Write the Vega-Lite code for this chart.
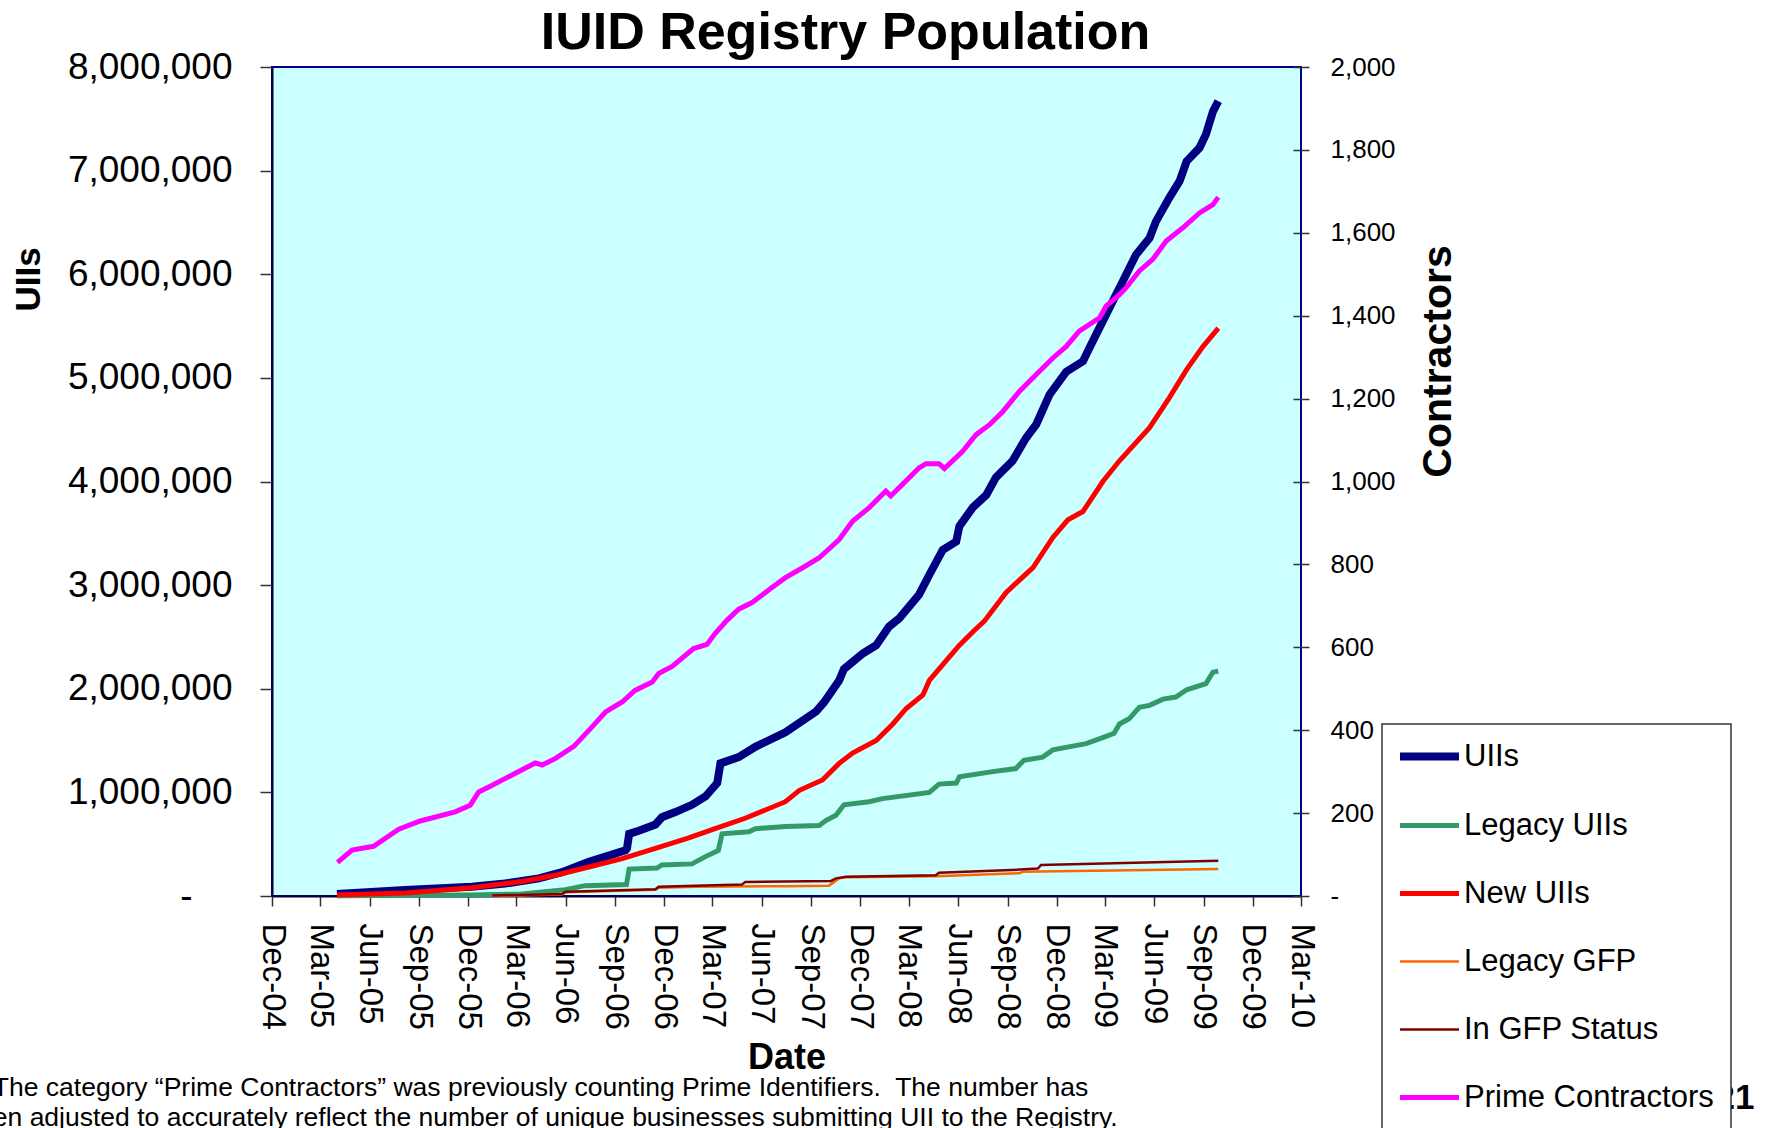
{
  "$schema": "https://vega.github.io/schema/vega-lite/v6.json",
  "width": 1029,
  "height": 829,
  "autosize": {"type": "none"},
  "padding": {"left": 272, "top": 67, "right": 471, "bottom": 232},
  "background": "white",
  "config": {
    "font": "Liberation Sans",
    "view": {"fill": "#CCFFFF", "stroke": "#000080", "strokeWidth": 2},
    "axis": {"grid": false, "labelColor": "black", "titleColor": "black", "labelFont": "Liberation Sans", "titleFont": "Liberation Sans", "tickColor": "#333333", "tickWidth": 1.5, "domainColor": "#000040", "domainWidth": 2, "labelFlush": false, "labelOverlap": false, "labelBound": false},
    "legend": {"title": null, "orient": "none", "legendX": 1110, "legendY": 657, "fillColor": "white", "strokeColor": "#333333", "strokeWidth": 1.5, "padding": 17, "rowPadding": 36, "labelFontSize": 31, "labelFont": "Liberation Sans", "labelColor": "black", "symbolType": "stroke", "symbolSize": 3481, "labelOffset": 5, "labelLimit": 500, "symbolStrokeWidth": 5}
  },
  "title": {"text": "IUID Registry Population", "fontSize": 52, "fontWeight": "bold", "font": "Liberation Sans", "color": "black", "anchor": "middle", "frame": "group", "dx": 59, "dy": 16},
  "data": {"values": [
    {"d":"2005-04-01","s":"UIIs","v":20000},{"d":"2005-08-06","s":"UIIs","v":58000},{"d":"2005-12-08","s":"UIIs","v":90000},{"d":"2006-02-08","s":"UIIs","v":120000},{"d":"2006-04-12","s":"UIIs","v":170000},{"d":"2006-05-25","s":"UIIs","v":230000},{"d":"2006-07-14","s":"UIIs","v":330000},{"d":"2006-08-14","s":"UIIs","v":380000},{"d":"2006-09-20","s":"UIIs","v":440000},{"d":"2006-09-23","s":"UIIs","v":460000},{"d":"2006-09-27","s":"UIIs","v":600000},{"d":"2006-10-15","s":"UIIs","v":630000},{"d":"2006-11-15","s":"UIIs","v":690000},{"d":"2006-11-27","s":"UIIs","v":760000},{"d":"2006-12-22","s":"UIIs","v":810000},{"d":"2007-01-22","s":"UIIs","v":880000},{"d":"2007-02-16","s":"UIIs","v":960000},{"d":"2007-03-10","s":"UIIs","v":1090000},{"d":"2007-03-16","s":"UIIs","v":1280000},{"d":"2007-04-19","s":"UIIs","v":1340000},{"d":"2007-05-20","s":"UIIs","v":1440000},{"d":"2007-07-15","s":"UIIs","v":1580000},{"d":"2007-09-10","s":"UIIs","v":1780000},{"d":"2007-09-25","s":"UIIs","v":1870000},{"d":"2007-10-23","s":"UIIs","v":2080000},{"d":"2007-11-01","s":"UIIs","v":2190000},{"d":"2007-12-06","s":"UIIs","v":2340000},{"d":"2007-12-31","s":"UIIs","v":2420000},{"d":"2008-01-24","s":"UIIs","v":2600000},{"d":"2008-02-12","s":"UIIs","v":2680000},{"d":"2008-03-20","s":"UIIs","v":2910000},{"d":"2008-04-08","s":"UIIs","v":3100000},{"d":"2008-05-03","s":"UIIs","v":3340000},{"d":"2008-05-28","s":"UIIs","v":3420000},{"d":"2008-06-03","s":"UIIs","v":3570000},{"d":"2008-06-28","s":"UIIs","v":3750000},{"d":"2008-07-23","s":"UIIs","v":3870000},{"d":"2008-08-10","s":"UIIs","v":4040000},{"d":"2008-09-10","s":"UIIs","v":4200000},{"d":"2008-10-05","s":"UIIs","v":4420000},{"d":"2008-10-24","s":"UIIs","v":4550000},{"d":"2008-11-18","s":"UIIs","v":4840000},{"d":"2008-12-19","s":"UIIs","v":5060000},{"d":"2009-01-19","s":"UIIs","v":5160000},{"d":"2009-02-03","s":"UIIs","v":5320000},{"d":"2009-03-03","s":"UIIs","v":5610000},{"d":"2009-04-03","s":"UIIs","v":5930000},{"d":"2009-04-28","s":"UIIs","v":6190000},{"d":"2009-05-23","s":"UIIs","v":6350000},{"d":"2009-06-04","s":"UIIs","v":6510000},{"d":"2009-06-29","s":"UIIs","v":6740000},{"d":"2009-07-18","s":"UIIs","v":6900000},{"d":"2009-07-31","s":"UIIs","v":7090000},{"d":"2009-08-24","s":"UIIs","v":7220000},{"d":"2009-09-05","s":"UIIs","v":7350000},{"d":"2009-09-18","s":"UIIs","v":7570000},{"d":"2009-09-28","s":"UIIs","v":7670000},
    {"d":"2005-04-01","s":"Legacy UIIs","v":3000},{"d":"2005-12-08","s":"Legacy UIIs","v":10000},{"d":"2006-03-11","s":"Legacy UIIs","v":20000},{"d":"2006-05-31","s":"Legacy UIIs","v":60000},{"d":"2006-07-07","s":"Legacy UIIs","v":100000},{"d":"2006-09-22","s":"Legacy UIIs","v":110000},{"d":"2006-09-27","s":"Legacy UIIs","v":260000},{"d":"2006-11-18","s":"Legacy UIIs","v":270000},{"d":"2006-11-27","s":"Legacy UIIs","v":300000},{"d":"2007-01-22","s":"Legacy UIIs","v":310000},{"d":"2007-02-16","s":"Legacy UIIs","v":380000},{"d":"2007-03-12","s":"Legacy UIIs","v":440000},{"d":"2007-03-19","s":"Legacy UIIs","v":600000},{"d":"2007-05-08","s":"Legacy UIIs","v":620000},{"d":"2007-05-20","s":"Legacy UIIs","v":650000},{"d":"2007-07-15","s":"Legacy UIIs","v":670000},{"d":"2007-09-16","s":"Legacy UIIs","v":680000},{"d":"2007-09-29","s":"Legacy UIIs","v":730000},{"d":"2007-10-17","s":"Legacy UIIs","v":780000},{"d":"2007-11-01","s":"Legacy UIIs","v":880000},{"d":"2007-12-18","s":"Legacy UIIs","v":910000},{"d":"2008-01-12","s":"Legacy UIIs","v":940000},{"d":"2008-04-08","s":"Legacy UIIs","v":1000000},{"d":"2008-04-26","s":"Legacy UIIs","v":1080000},{"d":"2008-05-28","s":"Legacy UIIs","v":1090000},{"d":"2008-06-03","s":"Legacy UIIs","v":1150000},{"d":"2008-08-04","s":"Legacy UIIs","v":1200000},{"d":"2008-09-16","s":"Legacy UIIs","v":1230000},{"d":"2008-10-01","s":"Legacy UIIs","v":1310000},{"d":"2008-11-05","s":"Legacy UIIs","v":1340000},{"d":"2008-11-24","s":"Legacy UIIs","v":1410000},{"d":"2009-01-25","s":"Legacy UIIs","v":1470000},{"d":"2009-03-03","s":"Legacy UIIs","v":1540000},{"d":"2009-03-18","s":"Legacy UIIs","v":1570000},{"d":"2009-03-28","s":"Legacy UIIs","v":1660000},{"d":"2009-04-15","s":"Legacy UIIs","v":1710000},{"d":"2009-05-04","s":"Legacy UIIs","v":1820000},{"d":"2009-05-23","s":"Legacy UIIs","v":1840000},{"d":"2009-06-17","s":"Legacy UIIs","v":1900000},{"d":"2009-07-11","s":"Legacy UIIs","v":1920000},{"d":"2009-07-31","s":"Legacy UIIs","v":1990000},{"d":"2009-09-05","s":"Legacy UIIs","v":2050000},{"d":"2009-09-18","s":"Legacy UIIs","v":2160000},{"d":"2009-09-28","s":"Legacy UIIs","v":2170000},
    {"d":"2005-04-01","s":"New UIIs","v":10000},{"d":"2005-08-06","s":"New UIIs","v":30000},{"d":"2005-12-08","s":"New UIIs","v":80000},{"d":"2006-03-11","s":"New UIIs","v":140000},{"d":"2006-05-13","s":"New UIIs","v":200000},{"d":"2006-07-14","s":"New UIIs","v":280000},{"d":"2006-09-14","s":"New UIIs","v":360000},{"d":"2006-11-15","s":"New UIIs","v":460000},{"d":"2007-01-16","s":"New UIIs","v":560000},{"d":"2007-03-06","s":"New UIIs","v":650000},{"d":"2007-05-01","s":"New UIIs","v":750000},{"d":"2007-07-15","s":"New UIIs","v":910000},{"d":"2007-08-10","s":"New UIIs","v":1020000},{"d":"2007-09-22","s":"New UIIs","v":1120000},{"d":"2007-10-23","s":"New UIIs","v":1280000},{"d":"2007-11-17","s":"New UIIs","v":1380000},{"d":"2007-12-31","s":"New UIIs","v":1500000},{"d":"2008-01-31","s":"New UIIs","v":1660000},{"d":"2008-02-25","s":"New UIIs","v":1810000},{"d":"2008-03-27","s":"New UIIs","v":1940000},{"d":"2008-04-08","s":"New UIIs","v":2080000},{"d":"2008-05-09","s":"New UIIs","v":2270000},{"d":"2008-06-03","s":"New UIIs","v":2420000},{"d":"2008-06-30","s":"New UIIs","v":2560000},{"d":"2008-07-19","s":"New UIIs","v":2650000},{"d":"2008-08-29","s":"New UIIs","v":2930000},{"d":"2008-10-18","s":"New UIIs","v":3170000},{"d":"2008-11-24","s":"New UIIs","v":3460000},{"d":"2008-12-22","s":"New UIIs","v":3630000},{"d":"2009-01-19","s":"New UIIs","v":3710000},{"d":"2009-02-25","s":"New UIIs","v":4000000},{"d":"2009-03-28","s":"New UIIs","v":4200000},{"d":"2009-05-23","s":"New UIIs","v":4520000},{"d":"2009-06-29","s":"New UIIs","v":4810000},{"d":"2009-07-31","s":"New UIIs","v":5080000},{"d":"2009-08-30","s":"New UIIs","v":5300000},{"d":"2009-09-28","s":"New UIIs","v":5480000},
    {"d":"2006-01-15","s":"Legacy GFP","v":0},{"d":"2006-05-25","s":"Legacy GFP","v":15000},{"d":"2006-05-31","s":"Legacy GFP","v":35000},{"d":"2006-11-15","s":"Legacy GFP","v":60000},{"d":"2006-11-21","s":"Legacy GFP","v":80000},{"d":"2007-01-28","s":"Legacy GFP","v":90000},{"d":"2007-07-15","s":"Legacy GFP","v":95000},{"d":"2007-10-04","s":"Legacy GFP","v":100000},{"d":"2007-10-23","s":"Legacy GFP","v":170000},{"d":"2007-11-05","s":"Legacy GFP","v":180000},{"d":"2008-04-20","s":"Legacy GFP","v":190000},{"d":"2008-09-23","s":"Legacy GFP","v":220000},{"d":"2008-09-29","s":"Legacy GFP","v":235000},{"d":"2009-09-28","s":"Legacy GFP","v":260000},
    {"d":"2006-01-15","s":"In GFP Status","v":5000},{"d":"2006-05-25","s":"In GFP Status","v":20000},{"d":"2006-05-31","s":"In GFP Status","v":40000},{"d":"2006-11-15","s":"In GFP Status","v":65000},{"d":"2006-11-21","s":"In GFP Status","v":90000},{"d":"2007-01-28","s":"In GFP Status","v":100000},{"d":"2007-04-25","s":"In GFP Status","v":110000},{"d":"2007-05-01","s":"In GFP Status","v":135000},{"d":"2007-07-15","s":"In GFP Status","v":140000},{"d":"2007-10-08","s":"In GFP Status","v":145000},{"d":"2007-10-17","s":"In GFP Status","v":170000},{"d":"2007-11-05","s":"In GFP Status","v":185000},{"d":"2008-04-20","s":"In GFP Status","v":200000},{"d":"2008-04-26","s":"In GFP Status","v":225000},{"d":"2008-09-23","s":"In GFP Status","v":255000},{"d":"2008-10-27","s":"In GFP Status","v":265000},{"d":"2008-11-02","s":"In GFP Status","v":300000},{"d":"2009-09-28","s":"In GFP Status","v":340000},
    {"d":"2005-04-02","s":"Prime Contractors","v":81},{"d":"2005-04-29","s":"Prime Contractors","v":111},{"d":"2005-06-08","s":"Prime Contractors","v":120},{"d":"2005-07-25","s":"Prime Contractors","v":161},{"d":"2005-09-03","s":"Prime Contractors","v":181},{"d":"2005-11-07","s":"Prime Contractors","v":203},{"d":"2005-12-05","s":"Prime Contractors","v":219},{"d":"2005-12-21","s":"Prime Contractors","v":251},{"d":"2006-01-15","s":"Prime Contractors","v":267},{"d":"2006-02-21","s":"Prime Contractors","v":292},{"d":"2006-04-05","s":"Prime Contractors","v":321},{"d":"2006-04-18","s":"Prime Contractors","v":316},{"d":"2006-05-13","s":"Prime Contractors","v":332},{"d":"2006-06-16","s":"Prime Contractors","v":361},{"d":"2006-07-20","s":"Prime Contractors","v":408},{"d":"2006-08-14","s":"Prime Contractors","v":444},{"d":"2006-09-14","s":"Prime Contractors","v":468},{"d":"2006-10-08","s":"Prime Contractors","v":496},{"d":"2006-11-09","s":"Prime Contractors","v":516},{"d":"2006-11-21","s":"Prime Contractors","v":537},{"d":"2006-12-16","s":"Prime Contractors","v":554},{"d":"2007-01-25","s":"Prime Contractors","v":597},{"d":"2007-02-19","s":"Prime Contractors","v":607},{"d":"2007-03-06","s":"Prime Contractors","v":633},{"d":"2007-03-28","s":"Prime Contractors","v":665},{"d":"2007-04-19","s":"Prime Contractors","v":692},{"d":"2007-05-14","s":"Prime Contractors","v":708},{"d":"2007-06-20","s":"Prime Contractors","v":744},{"d":"2007-07-15","s":"Prime Contractors","v":768},{"d":"2007-08-16","s":"Prime Contractors","v":792},{"d":"2007-09-16","s":"Prime Contractors","v":816},{"d":"2007-10-23","s":"Prime Contractors","v":860},{"d":"2007-11-17","s":"Prime Contractors","v":904},{"d":"2007-12-18","s":"Prime Contractors","v":937},{"d":"2008-01-18","s":"Prime Contractors","v":977},{"d":"2008-01-27","s":"Prime Contractors","v":965},{"d":"2008-02-18","s":"Prime Contractors","v":993},{"d":"2008-03-20","s":"Prime Contractors","v":1033},{"d":"2008-04-02","s":"Prime Contractors","v":1043},{"d":"2008-04-26","s":"Prime Contractors","v":1043},{"d":"2008-05-06","s":"Prime Contractors","v":1031},{"d":"2008-06-09","s":"Prime Contractors","v":1073},{"d":"2008-07-04","s":"Prime Contractors","v":1113},{"d":"2008-07-29","s":"Prime Contractors","v":1137},{"d":"2008-08-23","s":"Prime Contractors","v":1169},{"d":"2008-09-23","s":"Prime Contractors","v":1218},{"d":"2008-10-24","s":"Prime Contractors","v":1258},{"d":"2008-11-24","s":"Prime Contractors","v":1298},{"d":"2008-12-19","s":"Prime Contractors","v":1326},{"d":"2009-01-12","s":"Prime Contractors","v":1363},{"d":"2009-02-19","s":"Prime Contractors","v":1395},{"d":"2009-03-03","s":"Prime Contractors","v":1423},{"d":"2009-03-28","s":"Prime Contractors","v":1451},{"d":"2009-04-09","s":"Prime Contractors","v":1467},{"d":"2009-05-04","s":"Prime Contractors","v":1508},{"d":"2009-05-29","s":"Prime Contractors","v":1536},{"d":"2009-06-23","s":"Prime Contractors","v":1580},{"d":"2009-07-24","s":"Prime Contractors","v":1612},{"d":"2009-08-24","s":"Prime Contractors","v":1648},{"d":"2009-09-18","s":"Prime Contractors","v":1668},{"d":"2009-09-28","s":"Prime Contractors","v":1686}
  ]},
  "layer": [
    {
      "transform": [{"filter": "datum.s != 'Prime Contractors'"}],
      "mark": {"type": "line", "clip": false},
      "encoding": {
        "x": {"field": "d", "type": "temporal",
          "scale": {"type": "utc", "domain": [{"year": 2004, "month": 12, "date": 1, "utc": true}, {"year": 2010, "month": 3, "date": 1, "utc": true}]},
          "axis": {"orient": "bottom",
            "values": [{"year":2004,"month":12,"date":1,"utc":true},{"year":2005,"month":3,"date":1,"utc":true},{"year":2005,"month":6,"date":1,"utc":true},{"year":2005,"month":9,"date":1,"utc":true},{"year":2005,"month":12,"date":1,"utc":true},{"year":2006,"month":3,"date":1,"utc":true},{"year":2006,"month":6,"date":1,"utc":true},{"year":2006,"month":9,"date":1,"utc":true},{"year":2006,"month":12,"date":1,"utc":true},{"year":2007,"month":3,"date":1,"utc":true},{"year":2007,"month":6,"date":1,"utc":true},{"year":2007,"month":9,"date":1,"utc":true},{"year":2007,"month":12,"date":1,"utc":true},{"year":2008,"month":3,"date":1,"utc":true},{"year":2008,"month":6,"date":1,"utc":true},{"year":2008,"month":9,"date":1,"utc":true},{"year":2008,"month":12,"date":1,"utc":true},{"year":2009,"month":3,"date":1,"utc":true},{"year":2009,"month":6,"date":1,"utc":true},{"year":2009,"month":9,"date":1,"utc":true},{"year":2009,"month":12,"date":1,"utc":true},{"year":2010,"month":3,"date":1,"utc":true}],
            "labelExpr": "utcFormat(datum.value, '%b-%y')",
            "labelAngle": 90, "labelAlign": "left", "labelBaseline": "middle",
            "labelFontSize": 33, "tickSize": 10, "labelPadding": 17,
            "title": "Date", "titleFontSize": 36, "titleFontWeight": "bold", "titleY": 172, "titleBaseline": "alphabetic"}},
        "y": {"field": "v", "type": "quantitative",
          "scale": {"domain": [0, 8000000], "nice": false},
          "axis": {"orient": "left", "values": [0,1000000,2000000,3000000,4000000,5000000,6000000,7000000,8000000],
            "labelExpr": "datum.value == 0 ? '-' : format(datum.value, ',')",
            "labelFontSize": 37, "tickSize": 12,
            "labelPadding": {"condition": {"test": "datum.value == 0", "value": 68}, "value": 28},
            "title": "UIIs", "titleFontSize": 35, "titleFontWeight": "bold", "titleAngle": -90, "titleX": -244, "titleY": 212, "titleAlign": "center", "titleBaseline": "middle"}},
        "color": {"field": "s", "type": "nominal",
          "scale": {"domain": ["UIIs", "Legacy UIIs", "New UIIs", "Legacy GFP", "In GFP Status", "Prime Contractors"], "range": ["#000080", "#339966", "#FF0000", "#FF6600", "#800000", "#FF00FF"]},
          "legend": {"encode": {"symbols": {"update": {"x": {"value": 30.5}, "strokeWidth": {"signal": "datum.value == 'UIIs' ? 8 : (datum.value == 'Legacy GFP' || datum.value == 'In GFP Status') ? 2.5 : 5"}}}, "labels": {"update": {"x": {"value": 65}}}}}},
        "strokeWidth": {"condition": [{"test": "datum.s == 'UIIs'", "value": 8}, {"test": "datum.s == 'Legacy GFP' || datum.s == 'In GFP Status'", "value": 2.5}], "value": 5}
      }
    },
    {
      "transform": [{"filter": "datum.s == 'Prime Contractors'"}],
      "mark": {"type": "line", "clip": false, "strokeWidth": 5},
      "encoding": {
        "x": {"field": "d", "type": "temporal",
          "axis": {"orient": "bottom", "labels": false, "ticks": false, "domain": false,
            "title": ["The category \u201cPrime Contractors\u201d was previously counting Prime Identifiers.\u00a0 The number has", "been adjusted to accurately reflect the number of unique businesses submitting UII to the Registry."],
            "titleFontSize": 26.5, "titleFontWeight": "normal", "titleAngle": 0, "titleAlign": "center", "titleBaseline": "alphabetic", "titleX": 268, "titleY": 199, "titleLineHeight": 30, "titleLimit": 3000}},
        "y": {"field": "v", "type": "quantitative",
          "scale": {"domain": [0, 2000], "nice": false},
          "axis": {"orient": "right", "values": [0,200,400,600,800,1000,1200,1400,1600,1800,2000],
            "labelExpr": "datum.value == 0 ? '-' : format(datum.value, ',')",
            "labelFontSize": 26, "tickSize": 16, "offset": -8, "labelPadding": 21, "domain": false,
            "title": "Contractors", "titleFontSize": 41, "titleFontWeight": "bold", "titleAngle": -90, "titleX": 145, "titleY": 294, "titleAlign": "center", "titleBaseline": "middle"}},
        "color": {"field": "s", "type": "nominal",
          "legend": {"encode": {"symbols": {"update": {"x": {"value": 30.5}, "strokeWidth": {"signal": "datum.value == 'UIIs' ? 8 : (datum.value == 'Legacy GFP' || datum.value == 'In GFP Status') ? 2.5 : 5"}}}, "labels": {"update": {"x": {"value": 65}}}}}}
      }
    },
    {
      "transform": [{"filter": "false"}],
      "mark": {"type": "point"},
      "encoding": {
        "x": {"field": "d", "type": "temporal",
          "axis": {"orient": "bottom", "labels": false, "ticks": false, "domain": false,
            "title": "21", "titleFontSize": 35, "titleFontWeight": "bold", "titleAngle": 0, "titleAlign": "left", "titleBaseline": "alphabetic", "titleX": 1443, "titleY": 212, "titleLimit": 200}}
      }
    }
  ],
  "resolve": {"scale": {"y": "independent"}, "axis": {"x": "independent"}}
}
